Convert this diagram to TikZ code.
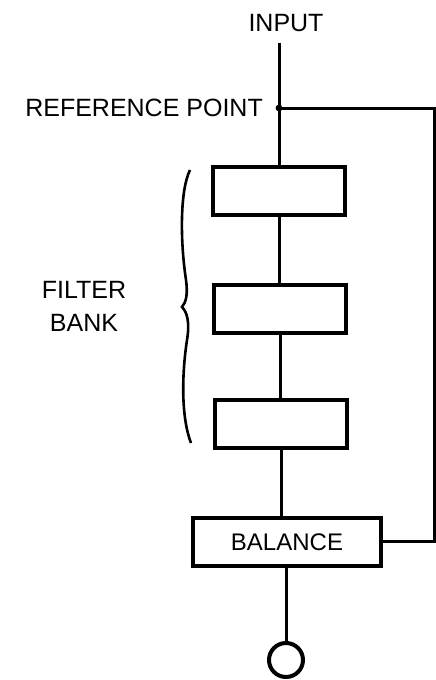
\documentclass[tikz,border=0pt]{standalone}
\usepackage{fontspec}
\setmainfont{Liberation Sans}
\begin{document}
\begin{tikzpicture}[x=1pt,y=-1pt,
  wire/.style={line width=3pt},
  fbox/.style={draw,line width=4.6pt,minimum width=132pt,minimum height=48pt,inner sep=0pt},
  lbl/.style={font=\fontsize{25}{29}\selectfont,inner sep=0pt}]
\useasboundingbox (0,0) rectangle (436,680);
\node[lbl] (input) at (286,23) {INPUT};
\node[lbl,anchor=east] (reflbl) at (263,108) {REFERENCE POINT};
\node[lbl,align=center] (fb) at (84,306) {FILTER\\[4pt]BANK};
\coordinate (top) at (279,43);
\coordinate (ref) at (279,108);
\coordinate (rc) at (434,108);
\coordinate (rb) at (434,541);
\node[fbox] (b1) at (279,191) {};
\node[fbox] (b2) at (280,309) {};
\node[fbox] (b3) at (281,424) {};
\node[fbox,minimum width=188pt,font=\fontsize{24}{28}\selectfont] (bal) at (287,542) {BALANCE};
\node[draw,circle,line width=4pt,minimum size=34pt,inner sep=0pt] (out) at (286,660) {};
\draw[wire] (top) -- (b1.north -| top);
\draw[wire] (ref) -- (rc) -- (rb) -- (bal.east |- rb);
\fill (ref) circle (3.4pt);
\draw[wire] (b1.south) -- (b2.north -| b1.south);
\draw[wire] (b2.south) -- (b3.north -| b2.south);
\draw[wire] (b3.south) -- (bal.north -| b3.south);
\draw[wire] (bal.south -| out.north) -- (out.north);
\draw[line width=2.6pt] (190,170) .. controls (180,190) and (180,240) .. (186,280)
  .. controls (188,295) and (186,302) .. (182,307)
  .. controls (187,312) and (190,322) .. (187,340)
  .. controls (181,380) and (182,420) .. (191,443);
\end{tikzpicture}
\end{document}
